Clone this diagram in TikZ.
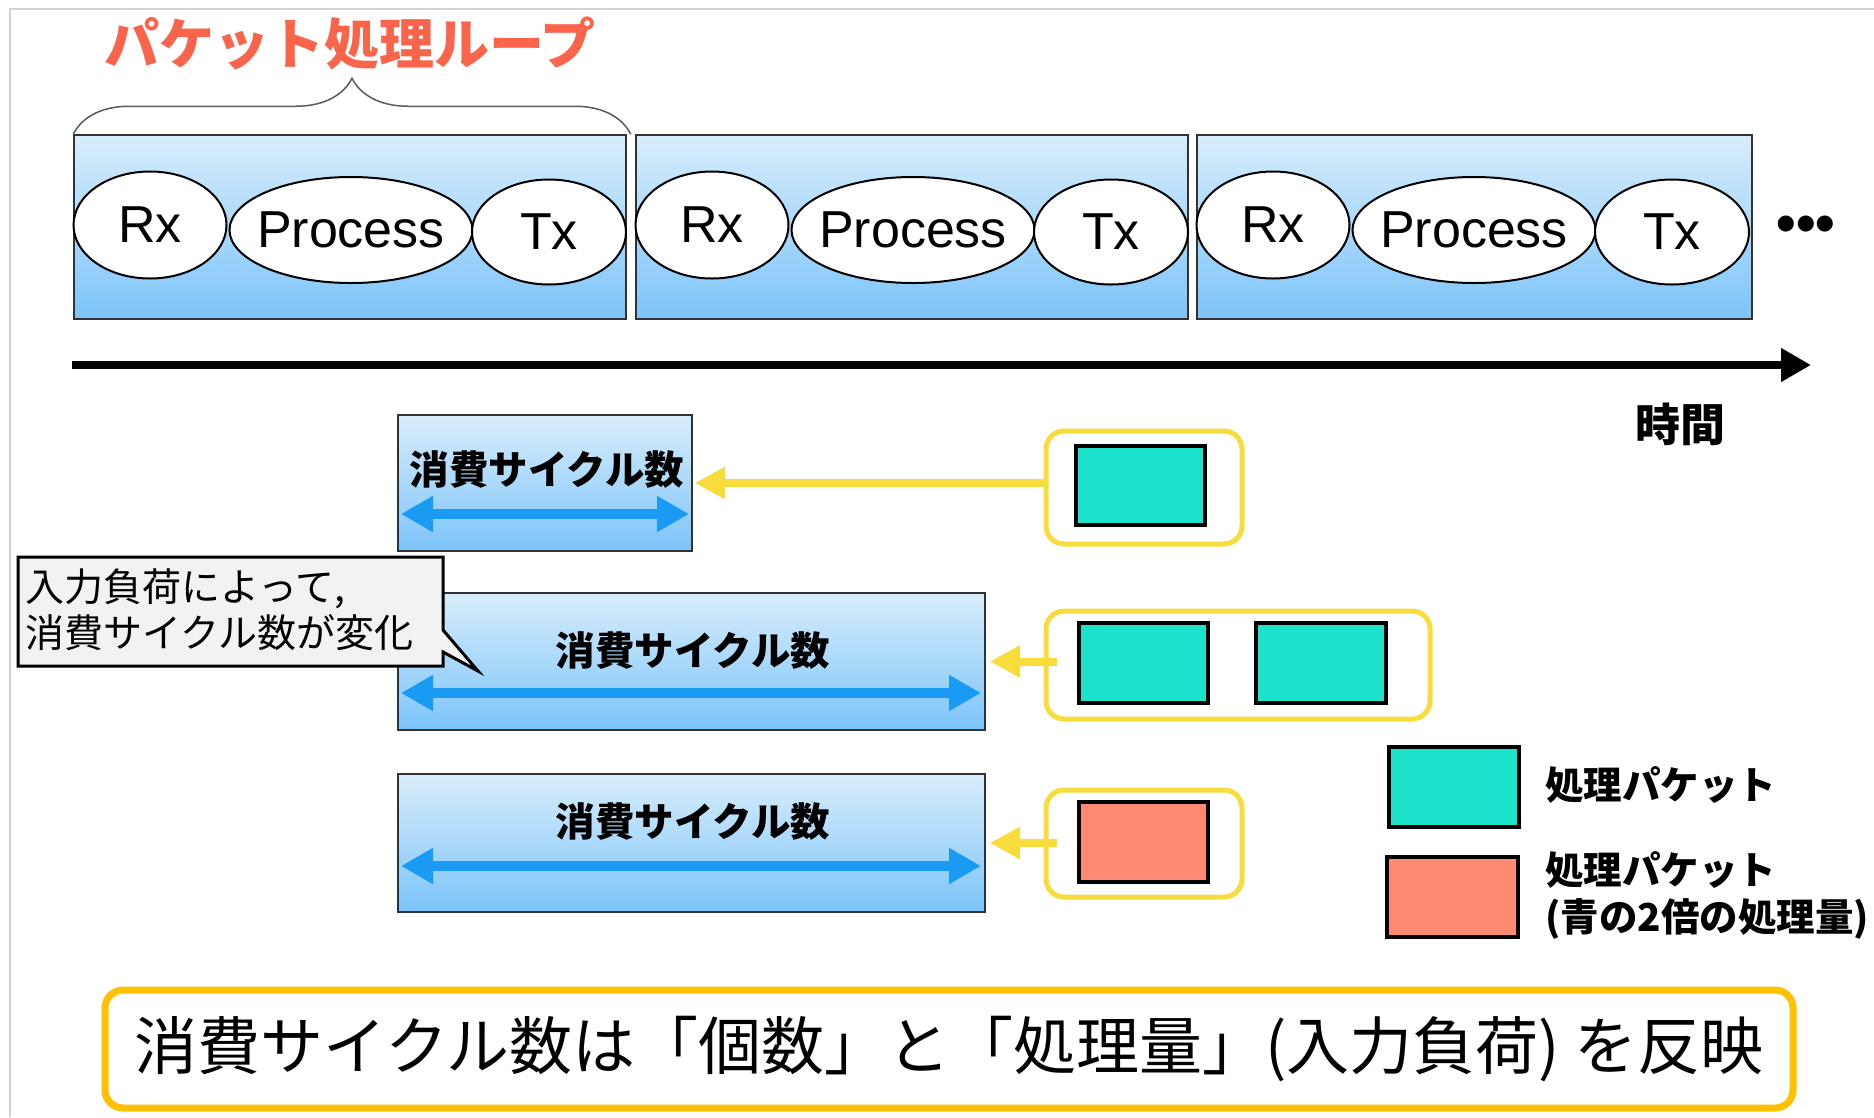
\documentclass[tikz,border=0pt]{standalone}
\usepackage{fontspec}
\setmainfont{Liberation Sans}
\newfontfamily\jp{Noto Sans CJK JP}
\usetikzlibrary{shapes.geometric,arrows.meta,decorations.pathreplacing}
\definecolor{titlered}{RGB}{250,100,75}
\definecolor{boxtop}{RGB}{216,237,251}
\definecolor{boxbot}{RGB}{124,196,250}
\definecolor{boxline}{RGB}{50,50,50}
\definecolor{arrowblue}{RGB}{26,154,242}
\definecolor{yel}{RGB}{247,220,60}
\definecolor{orangec}{RGB}{255,192,0}
\definecolor{tealc}{RGB}{29,227,204}
\definecolor{salmon}{RGB}{255,138,114}
\definecolor{notegray}{RGB}{242,242,242}
\definecolor{framegray}{RGB}{210,210,210}
\tikzset{
  loopbox/.style={rectangle, draw=boxline, line width=1.5pt, top color=boxtop, bottom color=boxbot, inner sep=0pt},
  phase/.style={ellipse, draw=black, fill=white, line width=2pt, inner xsep=-30pt, inner ysep=-20pt, font=\fontsize{52}{60}\selectfont},
  cyclelabel/.style={font=\jp\bfseries\fontsize{39.5}{46}\selectfont, inner sep=0pt},
  bluearrow/.style={draw=arrowblue, line width=10pt, {Triangle[length=32pt,width=34pt]}-{Triangle[length=32pt,width=34pt]}},
  yarrow/.style={draw=yel, line width=8pt, -{Triangle[length=30pt,width=30pt]}},
  ybox/.style={rectangle, draw=yel, line width=5pt, rounded corners=18pt, fill=white, inner sep=0pt},
  pkt/.style={rectangle, draw=black, line width=3.5pt, inner sep=0pt},
  legendtext/.style={font=\jp\bfseries\fontsize{38.5}{47}\selectfont, anchor=west, align=left, inner sep=0pt},
}
\begin{document}
\begin{tikzpicture}[x=1pt,y=-1pt]
\useasboundingbox (0,0) rectangle (1874,1117);
\fill[white] (0,0) rectangle (1874,1117);
\draw[framegray, line width=1.5pt] (10,1117) -- (10,9) -- (1874,9);

% title and brace
\node[font=\jp\bfseries\fontsize{55}{62}\selectfont, text=titlered, inner sep=0pt] (title) at (350,44) {パケット処理ループ};

% loop boxes
\node[loopbox, minimum width=552pt, minimum height=184pt] (loop1) at (350,227) {};
\node[loopbox, minimum width=552pt, minimum height=184pt] (loop2) at (912,227) {};
\node[loopbox, minimum width=555pt, minimum height=184pt] (loop3) at (1474.5,227) {};

\draw[boxline!80, line width=1.5pt, decorate, decoration={brace, amplitude=56pt}]
  (loop1.north west) -- ([xshift=4pt]loop1.north east);

\foreach \o/\i in {0/1,562/2,1123/3}{
  \node[phase, minimum width=153pt, minimum height=107pt] (rx\i) at (150+\o,225) {Rx};
  \node[phase, minimum width=243pt, minimum height=106pt] (pr\i) at (351+\o,230) {Process};
  \node[phase, minimum width=154pt, minimum height=105pt] (tx\i) at (549+\o,232) {Tx};
}
\node[font=\bfseries\fontsize{56}{56}\selectfont, inner sep=0pt] (dots) at (1806,229) {•••};

% time axis
\coordinate (t0) at (72,365);
\coordinate (t1) at (1811,365);
\draw[line width=8pt, -{Triangle[length=30pt,width=32pt]}] (t0) -- (t1);
\node[font=\jp\bfseries\fontsize{45}{50}\selectfont, inner sep=0pt] (jikan) at (1680,424) {時間};

% cycle boxes
\node[loopbox, minimum width=294pt, minimum height=136pt] (c1) at (545,483) {};
\node[loopbox, minimum width=587pt, minimum height=137pt] (c2) at (691.5,661.5) {};
\node[loopbox, minimum width=587pt, minimum height=138pt] (c3) at (691.5,843) {};
\node[cyclelabel] (lab1) at (547,470) {消費サイクル数};
\node[cyclelabel] (lab2) at (693,651) {消費サイクル数};
\node[cyclelabel] (lab3) at (693,822) {消費サイクル数};
\coordinate (a1l) at (401,514); \coordinate (a1r) at (689,514);
\coordinate (a2l) at (401,693); \coordinate (a2r) at (981,693);
\coordinate (a3l) at (401,866); \coordinate (a3r) at (981,866);
\draw[bluearrow] (a1l) -- (a1r);
\draw[bluearrow] (a2l) -- (a2r);
\draw[bluearrow] (a3l) -- (a3r);

% packet groups
\node[ybox, minimum width=196pt, minimum height=113pt] (yb1) at (1144,487.5) {};
\node[ybox, minimum width=384pt, minimum height=108pt] (yb2) at (1238,665) {};
\node[ybox, minimum width=196pt, minimum height=107pt] (yb3) at (1144,843.5) {};
\node[pkt, fill=tealc, minimum width=129pt, minimum height=79pt] (p1) at (1140.5,485.5) {};
\node[pkt, fill=tealc, minimum width=129pt, minimum height=80pt] (p2a) at (1143.5,663) {};
\node[pkt, fill=tealc, minimum width=130pt, minimum height=80pt] (p2b) at (1321,663) {};
\node[pkt, fill=salmon, minimum width=129pt, minimum height=80pt] (p3) at (1143.5,842) {};

\draw[yarrow] (yb1.west |- c1.east) -- ([xshift=2pt]c1.east);
\draw[yarrow, shorten >=4pt] ([xshift=13pt]yb2.west |- c2.east) -- (c2.east);
\draw[yarrow, shorten >=4pt] ([xshift=13pt]yb3.west |- c3.east) -- (c3.east);

% callout
\draw[fill=notegray, line width=3pt, line join=miter]
  (18,557) -- (443,557) -- (443,630) -- (478,671) -- (443,652) -- (443,666) -- (18,666) -- cycle;
\node[font=\jp\fontsize{39}{46}\selectfont, anchor=west, align=left, inner sep=0pt] (note) at (25,610) {入力負荷によって,\\消費サイクル数が変化};

% legend
\node[pkt, fill=tealc, minimum width=130pt, minimum height=80pt] (lg1) at (1454,787) {};
\node[pkt, fill=salmon, minimum width=131pt, minimum height=80pt] (lg2) at (1452.5,897) {};
\node[legendtext] (lt1) at (1545,785) {処理パケット};
\node[legendtext] (lt2) at (1545,895) {処理パケット\\(青の2倍の処理量)};

% summary
\node[rectangle, draw=orangec, line width=7pt, rounded corners=18pt, fill=white,
      minimum width=1688pt, minimum height=118pt, inner sep=0pt,
      font=\jp\fontsize{63}{70}\selectfont] (summary) at (949,1049)
  {消費サイクル数は「個数」と「処理量」(入力負荷) を反映};
\end{tikzpicture}
\end{document}
